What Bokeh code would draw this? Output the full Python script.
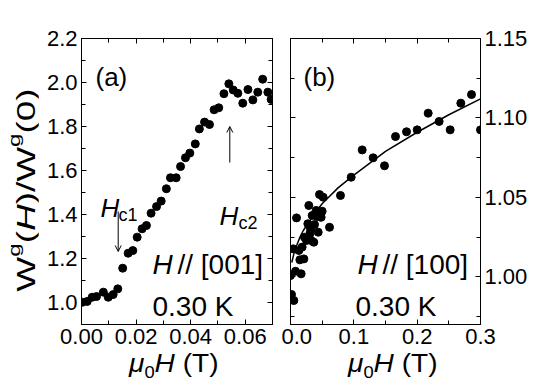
from bokeh.plotting import figure
from bokeh.layouts import row, column
from bokeh.models import LinearAxis, FixedTicker, Label, Arrow, OpenHead, Range1d, Div
from bokeh.embed import file_html
from bokeh.resources import INLINE

FONT = "Liberation Sans"

# ---------------- data: panel (a)  H // [001] ----------------
A_H = [0.0003, 0.0021, 0.0039, 0.0055, 0.0080, 0.0098, 0.0116, 0.0133, 0.0151,
       0.0171, 0.0188, 0.0204, 0.0222, 0.0238, 0.0255, 0.0275, 0.0292, 0.0311,
       0.0326, 0.0347, 0.0363, 0.0381, 0.0397, 0.0417, 0.0432, 0.0451, 0.0469,
       0.0486, 0.0503, 0.0522, 0.0540, 0.0556, 0.0573, 0.0591, 0.0610, 0.0628,
       0.0646, 0.0664, 0.0683, 0.0695]
A_W = [1.001, 1.005, 1.024, 1.027, 1.047, 1.024, 1.036, 1.062, 1.156,
       1.224, 1.236, 1.297, 1.335, 1.350, 1.406, 1.436, 1.461, 1.517,
       1.567, 1.567, 1.618, 1.658, 1.679, 1.721, 1.789, 1.820, 1.809,
       1.876, 1.885, 1.949, 1.994, 1.966, 1.951, 1.906, 1.968, 1.921,
       1.956, 2.015, 1.956, 1.923]

# ---------------- data: panel (b)  H // [100] ----------------
B_H = [0.000, 0.0016, 0.0053, 0.0042, 0.0079, 0.0095, 0.0132, 0.0148, 0.0168,
       0.0184, 0.0211, 0.0221, 0.0253, 0.0274, 0.0289, 0.0305, 0.0316, 0.0326,
       0.0342, 0.0368, 0.0379, 0.0405, 0.0421, 0.0437, 0.0458, 0.0484, 0.0500,
       0.0516, 0.0616, 0.0789, 0.0958, 0.1132, 0.1305, 0.1484, 0.1658, 0.1832,
       0.2000, 0.2174, 0.2347, 0.2521, 0.2689, 0.2858, 0.3000]
B_W = [1.0008, 0.9889, 0.9851, 1.0176, 1.0035, 1.0371, 1.0166, 1.0107, 1.0019,
       1.0187, 1.0113, 1.0249, 1.0229, 1.0334, 1.0449, 1.0271, 1.0302, 1.0229,
       1.0386, 1.0218, 1.0329, 1.0418, 1.0380, 1.0281, 1.0518, 1.0375, 1.0413,
       1.0501, 1.0312, 1.0512, 1.0627, 1.0799, 1.0749, 1.0699, 1.0883, 1.0913,
       1.0925, 1.1030, 1.0978, 1.0925, 1.1093, 1.1147, 1.0925]
# fitted curve
FIT_H = [0.002, 0.005, 0.0075, 0.01, 0.015, 0.02, 0.03, 0.04, 0.05, 0.075,
         0.10, 0.15, 0.20, 0.25, 0.30]
FIT_W = [1.009, 1.014, 1.018, 1.020, 1.025, 1.029, 1.035, 1.041, 1.046, 1.056,
         1.064, 1.079, 1.091, 1.102, 1.112]

# ---------------- ticks ----------------
A_XTICKS = [0.0, 0.02, 0.04, 0.06]
A_XLABELS = ["0.00", "0.02", "0.04", "0.06"]
A_XMINOR = [0.01, 0.03, 0.05, 0.07]
A_YTICKS = [1.0, 1.2, 1.4, 1.6, 1.8, 2.0, 2.2]
A_YLABELS = ["1.0", "1.2", "1.4", "1.6", "1.8", "2.0", "2.2"]
A_YMINOR = [1.1, 1.3, 1.5, 1.7, 1.9, 2.1]
B_XTICKS = [0.0, 0.1, 0.2, 0.3]
B_XLABELS = ["0.0", "0.1", "0.2", "0.3"]
B_XMINOR = [0.05, 0.15, 0.25]
B_YTICKS = [1.00, 1.05, 1.10, 1.15]
B_YLABELS = ["1.00", "1.05", "1.10", "1.15"]
B_YMINOR = [0.975, 1.025, 1.075, 1.125]

# ---------------- geometry (page px, page margin is 0) ----------------
W_TOTAL, H_TOTAL = 545, 382
YLAB_W = 38                      # column holding the rotated y-axis title
TOP = 38
FH = 286
BOTTOM = 30
FIG_H = TOP + FH + BOTTOM
XLAB_H = H_TOTAL - FIG_H
A_LEFT, A_FW = 81, 191
B_LEFT, B_FW = 290, 190
A_RB = 9
A_WIDTH = A_LEFT + A_FW + A_RB - YLAB_W
B_LB = B_LEFT - A_LEFT - A_FW - A_RB
B_RB = W_TOTAL - B_LEFT - B_FW
B_WIDTH = B_LB + B_FW + B_RB
A_XR, A_YR = (0.0, 0.07), (0.9, 2.2)
B_XR, B_YR = (0.0, 0.3), (0.97, 1.15)


def conv(left, fw, xr, yr):
    def fx(px):
        return xr[0] + (px - left) / fw * (xr[1] - xr[0])

    def fy(py):
        return yr[0] + (TOP + FH - py) / FH * (yr[1] - yr[0])
    return fx, fy


ax_, ay_ = conv(A_LEFT, A_FW, A_XR, A_YR)
bx_, by_ = conv(B_LEFT, B_FW, B_XR, B_YR)


def style_axis(ax, ticks, minor, labels=None):
    ax.ticker = FixedTicker(ticks=ticks, minor_ticks=minor)
    ax.major_tick_in = 5
    ax.major_tick_out = 0
    ax.minor_tick_in = 4
    ax.minor_tick_out = 0
    ax.axis_line_color = "black"
    ax.axis_line_width = 1
    ax.major_tick_line_color = "black"
    ax.minor_tick_line_color = "black"
    ax.major_label_text_font = FONT
    ax.major_label_text_font_size = "22px"
    ax.major_label_text_color = "black"
    if labels is not None:
        ax.major_label_overrides = {t: l for t, l in zip(ticks, labels)}
        ax.major_label_standoff = 4
    else:
        ax.major_label_overrides = {t: "" for t in ticks}
        ax.major_label_standoff = 0
        ax.axis_label_standoff = 0


def make_fig(xr, yr, fw, bl, br):
    p = figure(frame_width=fw, frame_height=FH,
               x_range=Range1d(*xr), y_range=Range1d(*yr),
               output_backend="svg", toolbar_location=None,
               min_border_left=bl, min_border_right=br,
               min_border_top=TOP, min_border_bottom=BOTTOM)
    p.xgrid.visible = False
    p.ygrid.visible = False
    p.outline_line_color = "black"
    p.outline_line_width = 1
    p.background_fill_color = "white"
    p.border_fill_color = "white"
    return p


def lab(p, x, y, text, size, style="normal"):
    p.add_layout(Label(x=x, y=y, text=text,
                       text_font=FONT, text_font_size=f"{size}px",
                       text_font_style=style, text_color="black",
                       text_align="left", text_baseline="alphabetic"))


# ================= panel (a) =================
pa = make_fig(A_XR, A_YR, A_FW, A_LEFT - YLAB_W, A_RB)
style_axis(pa.xaxis[0], A_XTICKS, A_XMINOR, A_XLABELS)
style_axis(pa.yaxis[0], A_YTICKS, A_YMINOR, A_YLABELS)
ta = LinearAxis()
style_axis(ta, A_XTICKS, A_XMINOR)
pa.add_layout(ta, "above")
ra = LinearAxis()
style_axis(ra, A_YTICKS, A_YMINOR)
pa.add_layout(ra, "right")

pa.scatter(A_H, A_W, size=8, color="black")

lab(pa, ax_(95), ay_(76), "(a)", 26)
lab(pa, ax_(100), ay_(207), "H", 26, "italic")
lab(pa, ax_(118), ay_(214), "c1", 18)
lab(pa, ax_(219), ay_(215), "H", 26, "italic")
lab(pa, ax_(238), ay_(222), "c2", 18)
lab(pa, ax_(152), ay_(264), "H", 28, "italic")
lab(pa, ax_(177), ay_(264), "// [001]", 28)
lab(pa, ax_(152), ay_(306), "0.30 K", 28)

pa.add_layout(Arrow(end=OpenHead(size=6, line_width=1, line_color="black"),
                    x_start=ax_(117.7), y_start=ay_(211), x_end=ax_(117.7), y_end=ay_(251),
                    line_width=1, line_color="black"))
pa.add_layout(Arrow(end=OpenHead(size=6, line_width=1, line_color="black"),
                    x_start=ax_(229.3), y_start=ay_(162), x_end=ax_(229.3), y_end=ay_(126),
                    line_width=1, line_color="black"))

# ================= panel (b) =================
pb = make_fig(B_XR, B_YR, B_FW, B_LB, B_RB)
style_axis(pb.xaxis[0], B_XTICKS, B_XMINOR, B_XLABELS)
style_axis(pb.yaxis[0], B_YTICKS, B_YMINOR)
tb = LinearAxis()
style_axis(tb, B_XTICKS, B_XMINOR)
pb.add_layout(tb, "above")
rb = LinearAxis()
style_axis(rb, B_YTICKS, B_YMINOR, B_YLABELS)
pb.add_layout(rb, "right")

pb.line(FIT_H, FIT_W, line_width=1.5, color="black")
pb.scatter(B_H, B_W, size=8, color="black")

lab(pb, bx_(303), by_(76), "(b)", 26)
lab(pb, bx_(357), by_(264), "H", 28, "italic")
lab(pb, bx_(382), by_(264), "// [100]", 28)
lab(pb, bx_(355), by_(306), "0.30 K", 28)

# ================= axis titles (HTML, for sub/superscripts) =================
TXT = f"font-family:'{FONT}';font-size:26px;line-height:26px;color:black;white-space:nowrap;"
SUB = "position:relative;top:6px;font-size:17px;line-height:17px;"
SUP = "position:relative;top:-15px;font-size:17px;line-height:17px;"


def xlab_div(width, left):
    html = (f"<div style='position:relative;width:{width}px;height:{XLAB_H}px;'>"
            f"<span style=\"position:absolute;left:{left}px;top:-4px;{TXT}"
            f"transform:scaleX(1.08);transform-origin:left center;\">"
            f"<i>μ</i><span style='{SUB}'>0</span><i>H</i> (T)</span></div>")
    return Div(text=html, width=width, height=XLAB_H, margin=0)


xa = xlab_div(A_WIDTH, 129 - YLAB_W)
xb = xlab_div(B_WIDTH, 348 - YLAB_W - A_WIDTH)

YC_X, YC_Y = 26, 190
yhtml = (f"<div style='position:relative;width:{YLAB_W}px;height:{H_TOTAL}px;'>"
         f"<span style=\"position:absolute;left:{YC_X}px;top:{YC_Y}px;{TXT}"
         f"transform:translate(-50%,-50%) rotate(-90deg) scaleX(1.42);\">"
         f"W<span style='{SUP}'>g</span>(<i>H</i>)/W<span style='{SUP}'>g</span>(0)"
         f"</span></div>")
ydiv = Div(text=yhtml, width=YLAB_W, height=H_TOTAL, margin=0)

layout = row(ydiv, column(row(pa, pb), row(xa, xb)))
open("out.html", "w").write(file_html(layout, INLINE))
